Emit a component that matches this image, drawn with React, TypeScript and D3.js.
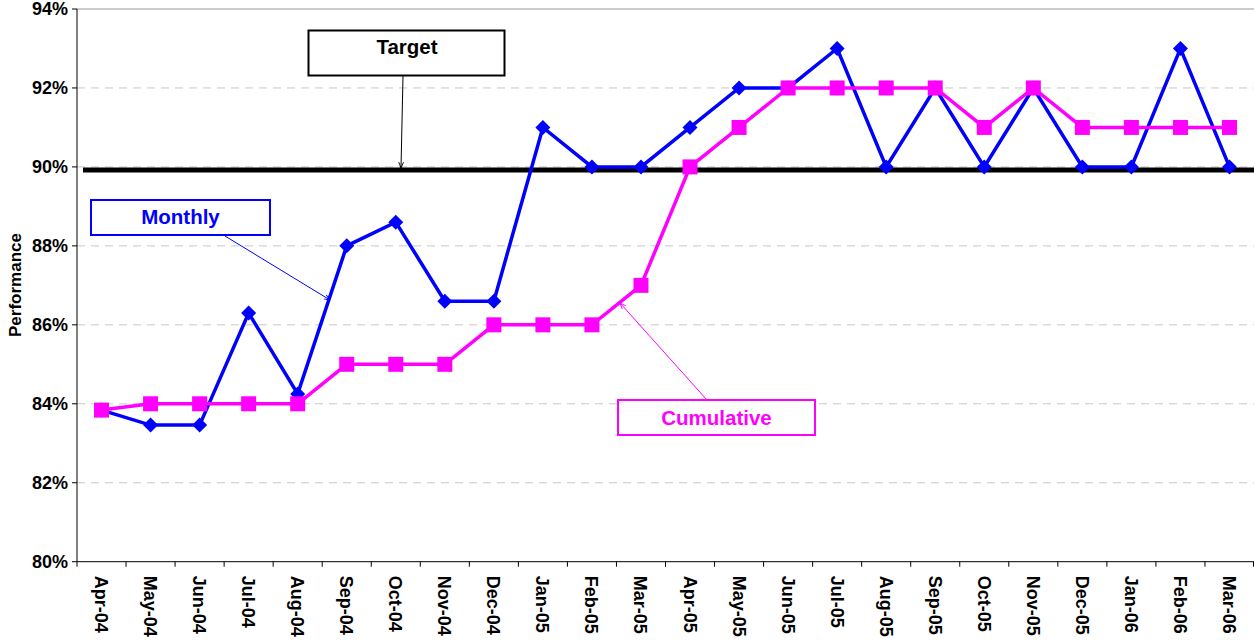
import React from "react";
import * as d3 from "d3";

const months = ["Apr-04","May-04","Jun-04","Jul-04","Aug-04","Sep-04","Oct-04","Nov-04","Dec-04","Jan-05","Feb-05","Mar-05","Apr-05","May-05","Jun-05","Jul-05","Aug-05","Sep-05","Oct-05","Nov-05","Dec-05","Jan-06","Feb-06","Mar-06"];
const monthly = [83.84,83.46,83.46,86.3,84.25,88.0,88.6,86.6,86.6,91.0,90,90,91,92,92,93,90,92,90,92,90,90,93,90];
const cumulative = [83.84,84,84,84,84,85,85,85,86,86,86,87,90,91,92,92,92,92,91,92,91,91,91,91];
const target = 89.92;
const yTicks = [80,82,84,86,88,90,92,94];

const W = 1254, H = 640;
const L = 77, R = 1254, T = 9, B = 561.7;
const FONT = "Liberation Sans, Arial, sans-serif";

export default function App() {
  const x = d3.scaleBand<string>().domain(months).range([L, R]);
  const y = d3.scaleLinear().domain([80, 94]).range([B, T]);
  const cx = (m: string) => (x(m) as number) + x.bandwidth() / 2;
  const line = d3.line<number>().x((_, i) => cx(months[i])).y((d) => y(d));
  const blue = "#0000FF", mag = "#FF00FF";

  const ds = 7.5;
  const sq = 7.5;

  return (
    <svg width={W} height={H} style={{ position: "absolute", left: 0, top: 0, background: "#fff" }} fontFamily={FONT}>
      <defs>
        <marker id="arrB" viewBox="0 0 10 10" refX="10" refY="5" markerWidth="6" markerHeight="6" orient="auto">
          <path d="M0,1 L10,5 L0,9" fill="none" stroke={blue} strokeWidth="1.5" />
        </marker>
        <marker id="arrM" viewBox="0 0 10 10" refX="10" refY="5" markerWidth="6" markerHeight="6" orient="auto">
          <path d="M0,1 L10,5 L0,9" fill="none" stroke={mag} strokeWidth="1.5" />
        </marker>
        <marker id="arrK" viewBox="0 0 10 10" refX="10" refY="5" markerWidth="6" markerHeight="6" orient="auto">
          <path d="M0,1 L10,5 L0,9" fill="none" stroke="#000" strokeWidth="1.5" />
        </marker>
      </defs>
      {/* gridlines */}
      {yTicks.filter((t) => t !== 80).map((t) => (
        <line key={t} x1={L} x2={R} y1={y(t)} y2={y(t)} stroke={t === 94 ? "#999" : "#c8c8c8"} strokeWidth={1}
          strokeDasharray={t === 94 ? undefined : "8,6"} />
      ))}
      {/* axes */}
      <line x1={L} x2={L} y1={T} y2={B} stroke="#000" strokeWidth={1} />
      <line x1={L} x2={R} y1={B} y2={B} stroke="#000" strokeWidth={1} />
      {yTicks.map((t) => (
        <g key={t}>
          <line x1={L - 5} x2={L} y1={y(t)} y2={y(t)} stroke="#000" />
          <text x={L - 9} y={y(t)} dy="0.36em" textAnchor="end" fontSize={18} fontWeight="bold">{t}%</text>
        </g>
      ))}
      {months.map((m, i) => (
        <line key={"t" + i} x1={x(m) as number} x2={x(m) as number} y1={B} y2={B + 5} stroke="#000" />
      ))}
      <line x1={R - 0.5} x2={R - 0.5} y1={B} y2={B + 5} stroke="#000" />
      {months.map((m) => (
        <text key={m} transform={`translate(${cx(m) - 6.5},${B + 14}) rotate(90)`} fontSize={18} fontWeight="bold">{m}</text>
      ))}
      <text transform={`translate(21,285) rotate(-90)`} textAnchor="middle" fontSize={17} fontWeight="bold">Performance</text>

      {/* target */}
      <line x1={83} x2={R} y1={y(target)} y2={y(target)} stroke="#000" strokeWidth={5} />

      {/* monthly */}
      <path d={line(monthly) as string} fill="none" stroke={blue} strokeWidth={3.5} />
      {monthly.map((v, i) => {
        const px = cx(months[i]), py = y(v);
        return <path key={"d" + i} d={`M${px},${py - ds} L${px + ds},${py} L${px},${py + ds} L${px - ds},${py} Z`} fill={blue} />;
      })}
      {/* cumulative */}
      <path d={line(cumulative) as string} fill="none" stroke={mag} strokeWidth={3.5} />
      {cumulative.map((v, i) => {
        const px = cx(months[i]), py = y(v);
        return <rect key={"s" + i} x={px - sq} y={py - sq} width={sq * 2} height={sq * 2} fill={mag} />;
      })}

      {/* callouts */}
      <line x1={403} y1={76} x2={401} y2={y(target) - 2} stroke="#000" strokeWidth={1} markerEnd="url(#arrK)" />
      <rect x={308.5} y={30.5} width={196} height={45} fill="#fff" stroke="#000" strokeWidth={2} />
      <text x={407} y={47} dy="0.35em" textAnchor="middle" fontSize={20.5} fontWeight="bold">Target</text>

      <line x1={225} y1={236} x2={330} y2={300} stroke={blue} strokeWidth={1} markerEnd="url(#arrB)" />
      <rect x={91} y={200} width={179} height={35} fill="#fff" stroke={blue} strokeWidth={2} />
      <text x={180.5} y={216.5} dy="0.35em" textAnchor="middle" fontSize={20.5} fontWeight="bold" fill={blue}>Monthly</text>

      <line x1={707} y1={400} x2={620} y2={303} stroke={mag} strokeWidth={1} markerEnd="url(#arrM)" />
      <rect x={618} y={400} width={197} height={35} fill="#fff" stroke={mag} strokeWidth={2} />
      <text x={716.5} y={417.5} dy="0.35em" textAnchor="middle" fontSize={20.5} fontWeight="bold" fill={mag}>Cumulative</text>
    </svg>
  );
}
